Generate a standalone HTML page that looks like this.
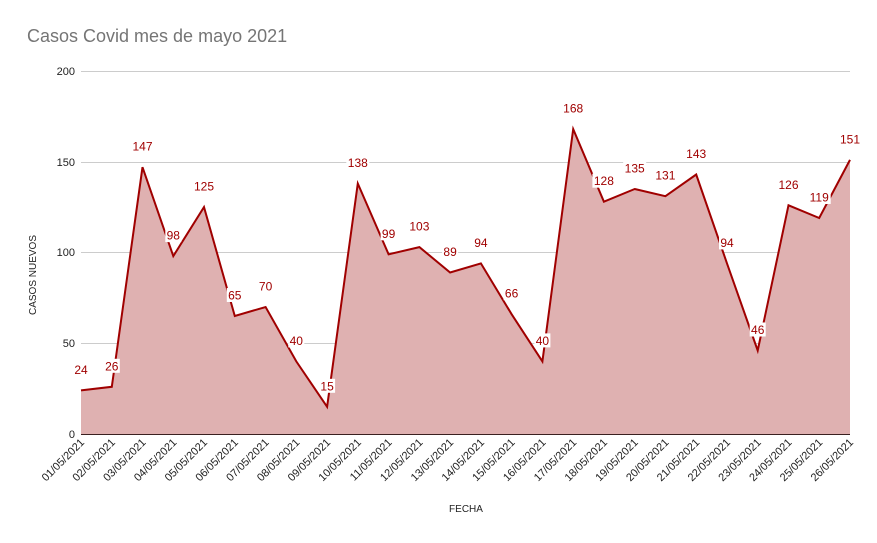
<!DOCTYPE html><html><head><style>body{margin:0;background:#fff}svg{display:block}text{font-family:"Liberation Sans",sans-serif}</style></head><body>
<svg width="877" height="543" xmlns="http://www.w3.org/2000/svg">
<text x="27" y="42" font-size="18" fill="#757575">Casos Covid mes de mayo 2021</text>
<g stroke="#cccccc" stroke-width="1">
<line x1="81" x2="850" y1="71.5" y2="71.5"/><line x1="81" x2="850" y1="162.5" y2="162.5"/><line x1="81" x2="850" y1="252.5" y2="252.5"/><line x1="81" x2="850" y1="343.5" y2="343.5"/></g>
<g font-size="11" fill="#222" text-anchor="end">
<text x="75" y="75">200</text><text x="75" y="166">150</text><text x="75" y="256">100</text><text x="75" y="347">50</text><text x="75" y="438">0</text></g>
<text transform="translate(36,275) rotate(-90)" font-size="10" fill="#222" text-anchor="middle">CASOS NUEVOS</text>
<text x="466" y="512" font-size="10" fill="#222" text-anchor="middle">FECHA</text>
<polygon fill="#dfb1b1" points="81,434 81,390.4 111.8,386.8 142.5,167.2 173.3,256.1 204,207.1 234.8,316 265.6,307 296.3,361.4 327.1,406.8 357.8,183.5 388.6,254.3 419.4,247.1 450.1,272.5 480.9,263.4 511.6,314.2 542.4,361.4 573.2,129.1 603.9,201.7 634.7,189 665.4,196.2 696.2,174.5 727,263.4 757.7,350.5 788.5,205.3 819.2,218 850,159.9 850,434"/>
<polyline fill="none" stroke="#a00000" stroke-width="2" points="81,390.4 111.8,386.8 142.5,167.2 173.3,256.1 204,207.1 234.8,316 265.6,307 296.3,361.4 327.1,406.8 357.8,183.5 388.6,254.3 419.4,247.1 450.1,272.5 480.9,263.4 511.6,314.2 542.4,361.4 573.2,129.1 603.9,201.7 634.7,189 665.4,196.2 696.2,174.5 727,263.4 757.7,350.5 788.5,205.3 819.2,218 850,159.9"/>
<line x1="81" x2="850" y1="434.5" y2="434.5" stroke="#3a2020"/>
<g fill="#fff">
<rect x="73" y="362.4" width="16" height="14"/><rect x="103.8" y="358.8" width="16" height="14"/><rect x="131" y="139.2" width="23" height="14"/><rect x="165.3" y="228.1" width="16" height="14"/><rect x="192.5" y="179.1" width="23" height="14"/><rect x="226.8" y="288" width="16" height="14"/><rect x="257.6" y="279" width="16" height="14"/><rect x="288.3" y="333.4" width="16" height="14"/><rect x="319.1" y="378.8" width="16" height="14"/><rect x="346.3" y="155.5" width="23" height="14"/><rect x="380.6" y="226.3" width="16" height="14"/><rect x="407.9" y="219.1" width="23" height="14"/><rect x="442.1" y="244.5" width="16" height="14"/><rect x="472.9" y="235.4" width="16" height="14"/><rect x="503.6" y="286.2" width="16" height="14"/><rect x="534.4" y="333.4" width="16" height="14"/><rect x="561.7" y="101.1" width="23" height="14"/><rect x="592.4" y="173.7" width="23" height="14"/><rect x="623.2" y="161" width="23" height="14"/><rect x="653.9" y="168.2" width="23" height="14"/><rect x="684.7" y="146.5" width="23" height="14"/><rect x="719" y="235.4" width="16" height="14"/><rect x="749.7" y="322.5" width="16" height="14"/><rect x="777" y="177.3" width="23" height="14"/><rect x="807.7" y="190" width="23" height="14"/><rect x="838.5" y="131.9" width="23" height="14"/>
</g>
<g font-size="12" fill="#a00000" text-anchor="middle">
<text x="81" y="373.9">24</text><text x="111.8" y="370.3">26</text><text x="142.5" y="150.7">147</text><text x="173.3" y="239.6">98</text><text x="204" y="190.6">125</text><text x="234.8" y="299.5">65</text><text x="265.6" y="290.5">70</text><text x="296.3" y="344.9">40</text><text x="327.1" y="390.3">15</text><text x="357.8" y="167">138</text><text x="388.6" y="237.8">99</text><text x="419.4" y="230.6">103</text><text x="450.1" y="256">89</text><text x="480.9" y="246.9">94</text><text x="511.6" y="297.7">66</text><text x="542.4" y="344.9">40</text><text x="573.2" y="112.6">168</text><text x="603.9" y="185.2">128</text><text x="634.7" y="172.5">135</text><text x="665.4" y="179.7">131</text><text x="696.2" y="158">143</text><text x="727" y="246.9">94</text><text x="757.7" y="334">46</text><text x="788.5" y="188.8">126</text><text x="819.2" y="201.5">119</text><text x="850" y="143.4">151</text>
</g>
<g font-size="11" fill="#222" text-anchor="end">
<text transform="translate(85,443) rotate(-45)">01/05/2021</text>
<text transform="translate(115.8,443) rotate(-45)">02/05/2021</text>
<text transform="translate(146.5,443) rotate(-45)">03/05/2021</text>
<text transform="translate(177.3,443) rotate(-45)">04/05/2021</text>
<text transform="translate(208,443) rotate(-45)">05/05/2021</text>
<text transform="translate(238.8,443) rotate(-45)">06/05/2021</text>
<text transform="translate(269.6,443) rotate(-45)">07/05/2021</text>
<text transform="translate(300.3,443) rotate(-45)">08/05/2021</text>
<text transform="translate(331.1,443) rotate(-45)">09/05/2021</text>
<text transform="translate(361.8,443) rotate(-45)">10/05/2021</text>
<text transform="translate(392.6,443) rotate(-45)">11/05/2021</text>
<text transform="translate(423.4,443) rotate(-45)">12/05/2021</text>
<text transform="translate(454.1,443) rotate(-45)">13/05/2021</text>
<text transform="translate(484.9,443) rotate(-45)">14/05/2021</text>
<text transform="translate(515.6,443) rotate(-45)">15/05/2021</text>
<text transform="translate(546.4,443) rotate(-45)">16/05/2021</text>
<text transform="translate(577.2,443) rotate(-45)">17/05/2021</text>
<text transform="translate(607.9,443) rotate(-45)">18/05/2021</text>
<text transform="translate(638.7,443) rotate(-45)">19/05/2021</text>
<text transform="translate(669.4,443) rotate(-45)">20/05/2021</text>
<text transform="translate(700.2,443) rotate(-45)">21/05/2021</text>
<text transform="translate(731,443) rotate(-45)">22/05/2021</text>
<text transform="translate(761.7,443) rotate(-45)">23/05/2021</text>
<text transform="translate(792.5,443) rotate(-45)">24/05/2021</text>
<text transform="translate(823.2,443) rotate(-45)">25/05/2021</text>
<text transform="translate(854,443) rotate(-45)">26/05/2021</text>
</g>
</svg></body></html>
